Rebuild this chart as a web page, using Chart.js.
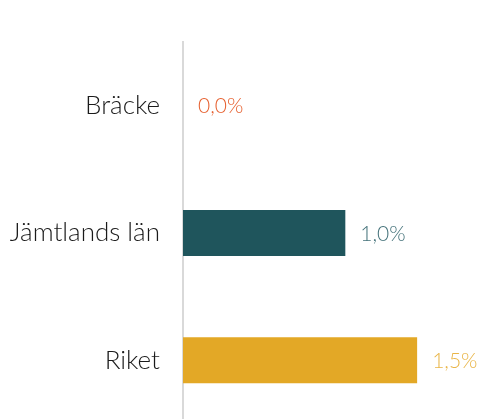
<!DOCTYPE html>
<html>
<head>
<meta charset="utf-8">
<script src="https://cdn.jsdelivr.net/npm/chart.js@4/dist/chart.umd.min.js"></script>
<style>
html,body{margin:0;padding:0;background:#fff;overflow:hidden;}
#wrap{width:478px;height:424px;}
</style>
</head>
<body>
<div id="wrap"><canvas id="c" width="478" height="424"></canvas></div>
<script>
const categories = ["Bräcke", "Jämtlands län", "Riket"];
const values = [0.0, 1.04, 1.5];
const barColors = ["#e8643c", "#1f555c", "#e3a826"];
const labelColors = ["#e6602f", "#44727a", "#e9b547"];
const xMax = 1.89;

const FONT = "Lato";

const valueLabels = {
  id: "valueLabels",
  afterDatasetsDraw(chart) {
    const ctx = chart.ctx;
    const meta = chart.getDatasetMeta(0);
    const base = chart.scales.x.getPixelForValue(0);
    ctx.save();
    ctx.font = "300 21px " + FONT;
    ctx.textAlign = "left";
    ctx.textBaseline = "middle";
    meta.data.forEach((bar, i) => {
      const v = values[i];
      const x = Math.max(bar.x, base);
      ctx.fillStyle = labelColors[i];
      ctx.fillText(v.toFixed(1).replace(".", ",") + "%", x + 15, bar.y + 1);
    });
    ctx.restore();
  }
};

new Chart(document.getElementById("c"), {
  type: "bar",
  data: {
    labels: categories,
    datasets: [{
      data: values,
      backgroundColor: barColors,
      borderWidth: 0,
      inflateAmount: 0,
      barThickness: 46
    }]
  },
  options: {
    indexAxis: "y",
    responsive: false,
    animation: false,
    layout: { padding: { top: 42, right: 0, bottom: 0, left: 0 } },
    plugins: { legend: { display: false }, tooltip: { enabled: false } },
    scales: {
      x: { display: false, min: 0, max: xMax },
      y: {
        afterFit(scale) {
          scale.width = 183;
          scale.paddingTop = 0;
          scale.paddingBottom = 0;
        },
        grid: { display: false, drawTicks: false },
        border: { display: true, color: "#d9d9d9", width: 2 },
        ticks: {
          padding: 23,
          color: "#1a1a1a",
          font: { family: FONT, size: 26, weight: 300 }
        }
      }
    }
  },
  plugins: [valueLabels]
});
</script>
</body>
</html>
